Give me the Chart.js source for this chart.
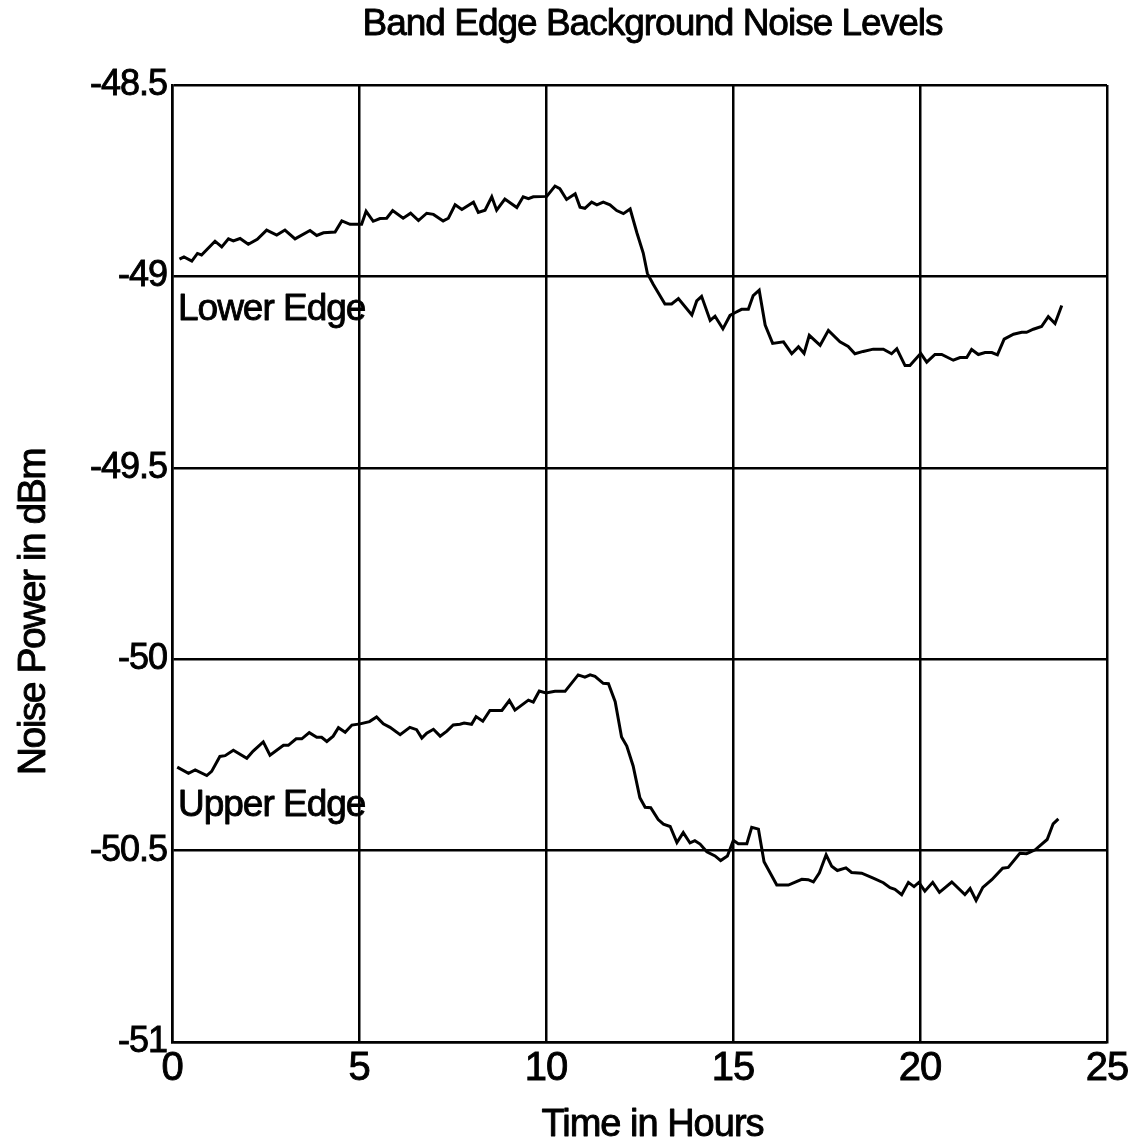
<!DOCTYPE html>
<html>
<head>
<meta charset="utf-8">
<title>Band Edge Background Noise Levels</title>
<script src="https://cdn.jsdelivr.net/npm/chart.js@4.4.1/dist/chart.umd.min.js"></script>
<style>
  html, body { margin: 0; padding: 0; background: #fff; }
  #wrap { width: 1141px; height: 1145px; }
</style>
</head>
<body>
<div id="wrap"><canvas id="noiseChart" width="1141" height="1145"></canvas></div>
<script>
'use strict';

/* ─── Data ─── */
const chartTitle = 'Band Edge Background Noise Levels';
const xTitle = 'Time in Hours';
const yTitle = 'Noise Power in dBm';

const xTicks = [0, 5, 10, 15, 20, 25];
const yTicks = [-51, -50.5, -50, -49.5, -49, -48.5];
const yTickLabels = ['-51', '-50.5', '-50', '-49.5', '-49', '-48.5'];

const seriesNames = ['Lower Edge', 'Upper Edge'];
const labelHours = [0.16, 0.16];
const labelLevels = [-49.115, -50.41];

const lowerHours = [
  0.20, 0.32, 0.53, 0.68, 0.79, 1.15, 1.33, 1.51, 1.64, 1.82, 2.04, 2.28, 2.53, 2.80, 3.02, 3.29,
  3.69, 3.87, 4.05, 4.36, 4.54, 4.76, 5.07, 5.19, 5.38, 5.56, 5.74, 5.90, 6.18, 6.38, 6.59, 6.81,
  6.99, 7.25, 7.39, 7.57, 7.75, 8.06, 8.19, 8.37, 8.55, 8.68, 8.90, 9.22, 9.39, 9.53, 9.66, 10.02,
  10.24, 10.37, 10.55, 10.78, 10.91, 11.04, 11.22, 11.36, 11.53, 11.71, 11.89, 12.07, 12.25, 12.43,
  12.60, 12.71, 12.87, 13.18, 13.36, 13.54, 13.90, 14.03, 14.16, 14.39, 14.52, 14.73, 14.92, 15.05,
  15.23, 15.41, 15.54, 15.70, 15.86, 16.06, 16.35, 16.57, 16.75, 16.90, 17.04, 17.33, 17.55, 17.86,
  18.08, 18.26, 18.48, 18.75, 19.02, 19.24, 19.38, 19.60, 19.73, 20.02, 20.18, 20.40, 20.58, 20.89,
  21.07, 21.25, 21.38, 21.56, 21.74, 21.92, 22.07, 22.25, 22.50, 22.72, 22.85, 23.03, 23.25, 23.43,
  23.61, 23.79
];
const lowerNoise = [
  -48.955, -48.949, -48.960, -48.940, -48.944, -48.908, -48.923, -48.902, -48.907, -48.901, -48.916, -48.903, -48.879, -48.892, -48.879, -48.902,
  -48.880, -48.893, -48.886, -48.884, -48.855, -48.864, -48.864, -48.830, -48.856, -48.849, -48.848, -48.828, -48.848, -48.835, -48.854, -48.835,
  -48.838, -48.855, -48.848, -48.813, -48.825, -48.806, -48.833, -48.827, -48.792, -48.827, -48.798, -48.820, -48.792, -48.797, -48.792, -48.791,
  -48.764, -48.771, -48.799, -48.784, -48.819, -48.822, -48.806, -48.813, -48.806, -48.813, -48.828, -48.836, -48.824, -48.886,
  -48.939, -48.992, -49.021, -49.072, -49.072, -49.058, -49.101, -49.064, -49.052, -49.115, -49.104, -49.137, -49.102, -49.095,
  -49.086, -49.086, -49.050, -49.036, -49.127, -49.175, -49.171, -49.202, -49.184, -49.201, -49.154, -49.180, -49.141, -49.171,
  -49.183, -49.202, -49.196, -49.190, -49.190, -49.202, -49.189, -49.233, -49.233, -49.201, -49.224, -49.204, -49.204, -49.219,
  -49.212, -49.212, -49.191, -49.204, -49.199, -49.199, -49.205, -49.164, -49.151, -49.146, -49.146, -49.138, -49.131, -49.105,
  -49.123, -49.076
];

const upperHours = [
  0.14, 0.44, 0.62, 0.93, 1.06, 1.28, 1.42, 1.64, 2.00, 2.17, 2.44, 2.62, 2.98, 3.11, 3.32, 3.47,
  3.67, 3.87, 4.00, 4.14, 4.31, 4.45, 4.63, 4.81, 5.03, 5.28, 5.47, 5.65, 5.83, 6.10, 6.36, 6.54,
  6.68, 6.81, 6.99, 7.17, 7.35, 7.52, 7.70, 7.81, 8.01, 8.13, 8.31, 8.50, 8.82, 9.02, 9.17, 9.53,
  9.66, 9.82, 10.00, 10.24, 10.51, 10.86, 11.04, 11.18, 11.31, 11.53, 11.67, 11.85, 12.02, 12.16,
  12.33, 12.51, 12.65, 12.80, 13.00, 13.14, 13.32, 13.50, 13.67, 13.85, 13.98, 14.12, 14.30, 14.52,
  14.67, 14.85, 15.01, 15.14, 15.37, 15.50, 15.68, 15.83, 16.17, 16.48, 16.84, 17.01, 17.15, 17.31,
  17.49, 17.64, 17.79, 18.02, 18.17, 18.44, 18.75, 19.02, 19.20, 19.33, 19.51, 19.69, 19.84, 19.97,
  20.13, 20.34, 20.52, 20.85, 21.20, 21.34, 21.50, 21.68, 21.92, 22.21, 22.36, 22.67, 22.85, 23.08,
  23.40, 23.56, 23.70
];
const upperNoise = [
  -50.282, -50.298, -50.289, -50.304, -50.293, -50.254, -50.252, -50.238, -50.259, -50.240, -50.216, -50.251, -50.225, -50.225, -50.208, -50.208,
  -50.192, -50.204, -50.204, -50.215, -50.201, -50.179, -50.191, -50.172, -50.169, -50.163, -50.151, -50.169, -50.178, -50.197, -50.178, -50.184,
  -50.206, -50.193, -50.183, -50.201, -50.188, -50.172, -50.170, -50.167, -50.170, -50.150, -50.162, -50.134, -50.134, -50.108, -50.133, -50.107,
  -50.112, -50.083, -50.088, -50.084, -50.084, -50.041, -50.047, -50.041, -50.045, -50.063, -50.064, -50.111, -50.203, -50.227,
  -50.279, -50.362, -50.387, -50.388, -50.419, -50.431, -50.437, -50.479, -50.453, -50.480, -50.474, -50.483, -50.503, -50.514,
  -50.526, -50.514, -50.473, -50.482, -50.482, -50.439, -50.444, -50.529, -50.590, -50.590, -50.575, -50.576, -50.582, -50.558,
  -50.511, -50.541, -50.552, -50.545, -50.557, -50.559, -50.572, -50.584, -50.597, -50.601, -50.615, -50.583, -50.594, -50.583,
  -50.606, -50.583, -50.609, -50.582, -50.615, -50.599, -50.630, -50.596, -50.576, -50.546, -50.544, -50.507, -50.508, -50.498,
  -50.471, -50.430, -50.417
];

const FONT = "'Liberation Sans', Arial, sans-serif";
const INK = '#000';

const toPoints = (xs, ys) => xs.map((x, i) => ({ x, y: ys[i] }));

// heavy, tightly set lettering like the scanned original
function inkText(ctx, text, x, y) {
  ctx.strokeText(text, x, y);
  ctx.fillText(text, x, y);
}

/* ─── Titles and in-plot series labels ─── */
const textPlugin = {
  id: 'plotText',
  beforeDraw(chart) {
    chart.ctx.letterSpacing = '-1px';
  },
  afterDraw(chart) {
    const { ctx, chartArea, scales } = chart;
    const midX = (chartArea.left + chartArea.right) / 2 + 13;
    ctx.save();
    ctx.fillStyle = INK;
    ctx.strokeStyle = INK;
    ctx.lineWidth = 0.9;
    ctx.lineJoin = 'round';
    ctx.textBaseline = 'alphabetic';
    ctx.letterSpacing = '-1px';

    ctx.textAlign = 'center';
    ctx.font = `37px ${FONT}`;
    inkText(ctx, chartTitle, midX, 35);

    ctx.font = `38px ${FONT}`;
    inkText(ctx, xTitle, midX, 1136);

    ctx.save();
    ctx.translate(45, 612);
    ctx.rotate(-Math.PI / 2);
    ctx.font = `39px ${FONT}`;
    ctx.letterSpacing = '-1.5px';
    inkText(ctx, yTitle, 0, 0);
    ctx.restore();

    ctx.textAlign = 'left';
    ctx.font = `37px ${FONT}`;
    seriesNames.forEach((name, i) => {
      inkText(ctx, name, scales.x.getPixelForValue(labelHours[i]), scales.y.getPixelForValue(labelLevels[i]));
    });
    ctx.restore();
  }
};

const lineStyle = {
  borderColor: INK,
  borderWidth: 3,
  pointRadius: 0,
  tension: 0,
  fill: false
};

new Chart(document.getElementById('noiseChart'), {
  type: 'line',
  data: {
    datasets: [
      { label: seriesNames[0], data: toPoints(lowerHours, lowerNoise), ...lineStyle },
      { label: seriesNames[1], data: toPoints(upperHours, upperNoise), ...lineStyle }
    ]
  },
  options: {
    responsive: false,
    animation: false,
    devicePixelRatio: 1,
    layout: { padding: { left: 0, top: 85, right: 34, bottom: 0 } },
    plugins: {
      legend: { display: false },
      title: { display: false },
      tooltip: { enabled: false }
    },
    scales: {
      x: {
        type: 'linear',
        min: 0,
        max: 25,
        afterBuildTicks: s => { s.ticks = xTicks.map(v => ({ value: v })); },
        afterFit: s => { s.height = 103; },
        grid: { color: INK, lineWidth: 2.5, drawTicks: false },
        border: { color: INK, width: 2.5 },
        ticks: {
          color: INK,
          padding: 3,
          maxRotation: 0,
          textStrokeColor: INK,
          textStrokeWidth: 0.9,
          font: { family: FONT, size: 40 },
          callback: v => String(v)
        }
      },
      y: {
        type: 'linear',
        min: -51,
        max: -48.5,
        afterBuildTicks: s => { s.ticks = yTicks.map(v => ({ value: v })); },
        afterFit: s => { s.width = 172; },
        grid: { color: INK, lineWidth: 2.5, drawTicks: false },
        border: { color: INK, width: 2.5 },
        ticks: {
          color: INK,
          padding: 5,
          textStrokeColor: INK,
          textStrokeWidth: 0.9,
          font: { family: FONT, size: 36 },
          callback: v => yTickLabels[yTicks.indexOf(v)]
        }
      }
    }
  },
  plugins: [textPlugin]
});
</script>
</body>
</html>
